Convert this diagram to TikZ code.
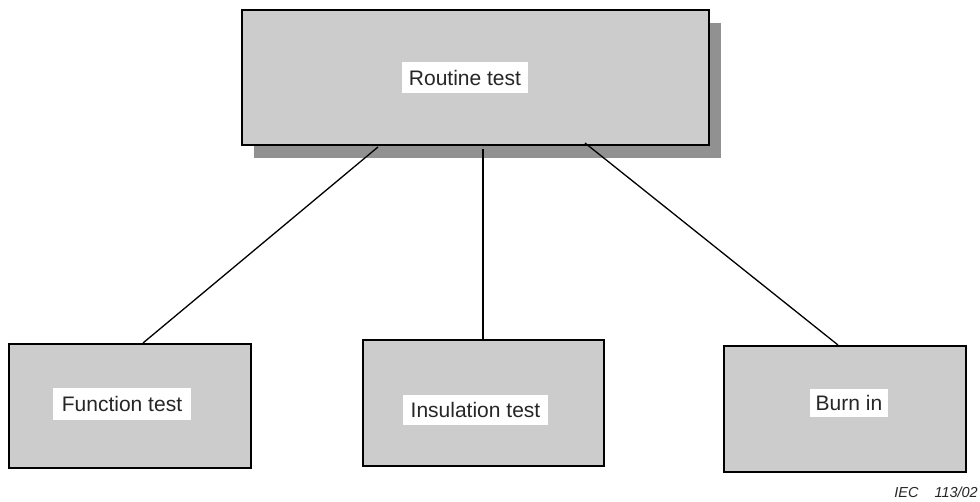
\documentclass[tikz,border=0pt]{standalone}
\usepackage{fontspec}
\setmainfont{Liberation Sans}
\usetikzlibrary{shadows}
\definecolor{boxgray}{RGB}{204,204,204}
\definecolor{shadegray}{RGB}{145,145,145}
\begin{document}
\begin{tikzpicture}[x=1pt,y=-1pt,
  testbox/.style={draw=black, line width=1.5pt, fill=boxgray, rectangle,
    anchor=north west, inner sep=0pt},
  caption/.style={fill=white, inner sep=0pt, text height=15.5pt, text depth=0pt,
    font=\fontsize{21}{24}\selectfont, text=black!85},
  link/.style={draw=black, line width=1.3pt}]
\useasboundingbox (0,0) rectangle (980,501);

% boxes
\node[testbox, minimum width=467pt, minimum height=135pt,
  general shadow={shadow xshift=12pt, shadow yshift=-13.5pt, fill=shadegray}]
  (top) at (241,9) {};
\node[testbox, minimum width=242pt, minimum height=124pt] (fn) at (8,343) {};
\node[testbox, minimum width=241pt, minimum height=126pt] (ins) at (362,339) {};
\node[testbox, minimum width=242pt, minimum height=126pt] (burn) at (723,345) {};

% labels
\node[caption, minimum width=126pt, minimum height=31pt] (ltop) at (465,77.5) {Routine test};
\node[caption, minimum width=138pt, minimum height=32pt] (lfn) at (122,404) {Function test};
\node[caption, minimum width=145pt, minimum height=30pt] (lins) at (475.5,410) {Insulation test};
\node[caption, minimum width=78pt, minimum height=28pt] (lburn) at (849,403) {Burn in};

% connectors
\coordinate (s1) at (378,147);
\coordinate (s2) at (483,149);
\coordinate (s3) at (585,143);
\coordinate (e1) at (143,343);
\coordinate (e3) at (838,345);
\draw[link] (s1) -- (e1);
\draw[link] (s2) -- (s2 |- ins.north);
\draw[link] (s3) -- (e3);

% figure reference
\node[anchor=base east, inner sep=0pt, font=\fontsize{14.5}{16}\selectfont\itshape, text=black!85]
  (ref) at (978,497) {IEC\hspace{1.1em}113/02};
\end{tikzpicture}
\end{document}
